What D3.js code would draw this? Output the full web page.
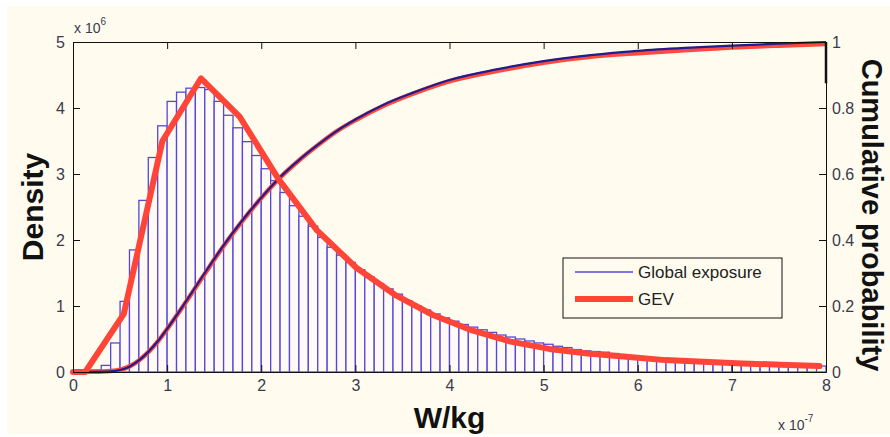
<!DOCTYPE html>
<html><head><meta charset="utf-8">
<script src="https://cdn.jsdelivr.net/npm/d3@7"></script>
<style>html,body{margin:0;padding:0;background:#fff;}svg{display:block;font-family:"Liberation Sans",Arial,sans-serif;}</style>
</head><body>
<svg id="c" width="890" height="437"></svg>
<script>
// ---- data (density in units of 1e6, x in units of 1e-7 W/kg) ----
const binEdgesStart = 0, binWidth = 0.1;
const histValues = [0,0.01,0.03,0.10,0.44,1.07,1.85,2.60,3.25,3.73,
  4.10,4.24,4.30,4.31,4.28,4.10,3.89,3.70,3.49,3.28,
  3.08,2.90,2.72,2.52,2.36,2.21,2.04,1.89,1.77,1.66,
  1.55,1.44,1.34,1.26,1.18,1.08,1.00,0.94,0.88,0.82,
  0.77,0.72,0.68,0.64,0.60,0.56,0.53,0.50,0.47,0.44,
  0.42,0.39,0.37,0.34,0.32,0.31,0.30,0.28,0.26,0.24,
  0.22,0.21,0.19,0.18,0.17,0.16,0.16,0.15,0.14,0.14,
  0.13,0.13,0.12,0.12,0.11,0.11,0.10,0.10,0.10,0.09];
const gevPdfX = [0,0.13,0.54,0.95,1.36,1.77,2.18,2.59,3.01,3.42,3.83,4.24,4.65,5.06,5.47,5.88,6.29,6.70,7.11,7.52,7.93];
const gevPdfY = [0,0.0,0.88,3.50,4.45,3.87,2.93,2.15,1.58,1.17,0.86,0.63,0.46,0.35,0.28,0.23,0.18,0.155,0.13,0.11,0.09];
const cdfX = [0,0.2,0.4,0.5,0.6,0.7,0.8,0.9,1.0,1.2,1.4,1.6,1.8,2.0,2.2,2.4,2.6,2.8,3.0,3.3,3.6,4.0,4.5,5.0,5.5,6.0,6.5,7.0,7.5,8.0];
const empCdf = [0,0.0005,0.002,0.006,0.016,0.035,0.061,0.093,0.131,0.214,0.300,0.384,0.460,0.528,0.590,0.642,0.688,0.730,0.765,0.810,0.845,0.885,0.917,0.942,0.960,0.973,0.982,0.989,0.995,1.0];
const gevCdf = [0,0.0005,0.003,0.007,0.017,0.035,0.060,0.092,0.130,0.212,0.298,0.382,0.458,0.527,0.589,0.641,0.687,0.729,0.763,0.807,0.842,0.881,0.912,0.937,0.955,0.966,0.975,0.983,0.989,0.994];
const xTicks = [0,1,2,3,4,5,6,7,8];
const yLeftTicks = [0,1,2,3,4,5];
const yRightTicks = [0,0.2,0.4,0.6,0.8,1];
const yRightLabels = ["0","0.2","0.4","0.6","0.8","1"];
const legendLabels = ["Global exposure","GEV"];

// ---- layout ----
const svg = d3.select("#c");
const L = 73, R = 826, T = 42, B = 372;
const x = d3.scaleLinear().domain([0,8]).range([L,R]);
const yL = d3.scaleLinear().domain([0,5]).range([B,T]);
const yR = d3.scaleLinear().domain([0,1]).range([B,T]);
const bg = "#fffcef";
const labCol = "#3a3a4e";

svg.append("rect").attr("x",7).attr("y",6).attr("width",883).attr("height",428).attr("fill",bg);

// histogram bars
svg.append("g").selectAll("rect").data(histValues).join("rect")
  .attr("x",(d,i)=>x(binEdgesStart+i*binWidth))
  .attr("width",(d,i)=>x(binEdgesStart+(i+1)*binWidth)-x(binEdgesStart+i*binWidth))
  .attr("y",d=>yL(d))
  .attr("height",d=>B-yL(d))
  .attr("fill","#fffaf6").attr("stroke","#5548d6").attr("stroke-width",1.3);

// CDFs
const cdfLine = arr => d3.line().x((d,i)=>x(cdfX[i])).y((d,i)=>yR(arr[i])).curve(d3.curveMonotoneX)(arr);
svg.append("path").attr("d",cdfLine(gevCdf)).attr("fill","none").attr("stroke","#ff4a3e").attr("stroke-width",4.5).attr("stroke-linejoin","round");
svg.append("path").attr("d",cdfLine(empCdf)).attr("fill","none").attr("stroke","#221c8c").attr("stroke-width",2.2).attr("stroke-linejoin","round");

// GEV pdf
svg.append("path").attr("d",d3.line().x((d,i)=>x(gevPdfX[i])).y(d=>yL(d))(gevPdfY))
  .attr("fill","none").attr("stroke","#ff4438").attr("stroke-width",6).attr("stroke-linejoin","round").attr("stroke-linecap","round");

// axes
function styleAxis(g){ g.selectAll("path").attr("stroke","#111"); g.selectAll("line").attr("stroke","#111");
  g.selectAll("text").attr("fill",labCol).style("font-size","16px").style("font-family","'Liberation Sans',Arial,sans-serif"); }
svg.append("g").attr("transform",`translate(0,${B})`)
  .call(d3.axisBottom(x).tickValues(xTicks).tickFormat(d3.format("d")).tickSizeInner(-7).tickSizeOuter(0).tickPadding(8)).call(styleAxis);
svg.append("g").attr("transform",`translate(0,${T})`)
  .call(d3.axisTop(x).tickValues(xTicks).tickFormat("").tickSizeInner(-7).tickSizeOuter(0)).call(styleAxis);
svg.append("g").attr("transform",`translate(${L},0)`)
  .call(d3.axisLeft(yL).tickValues(yLeftTicks).tickFormat(d3.format("d")).tickSizeInner(-7).tickSizeOuter(0).tickPadding(8)).call(styleAxis);
svg.append("g").attr("transform",`translate(${R},0)`)
  .call(d3.axisRight(yR).tickValues(yRightTicks).tickFormat((d,i)=>yRightLabels[i]).tickSizeInner(-7).tickSizeOuter(0).tickPadding(6)).call(styleAxis);
svg.append("line").attr("x1",R).attr("x2",R).attr("y1",T).attr("y2",yR(0.875)).attr("stroke","#111").attr("stroke-width",2.5);

// exponent labels
const e1 = svg.append("text").attr("x",74).attr("y",33).attr("fill",labCol).style("font-size","14px");
e1.append("tspan").text("x 10");
e1.append("tspan").attr("dy",-8).style("font-size","10px").text("6");
const e2 = svg.append("text").attr("x",778).attr("y",430).attr("fill",labCol).style("font-size","14px");
e2.append("tspan").text("x 10");
e2.append("tspan").attr("dy",-8).style("font-size","10px").text("-7");

// axis titles
svg.append("text").attr("transform",`translate(43,${(T+B)/2}) rotate(-90)`).attr("text-anchor","middle")
  .style("font-size","30px").style("font-weight","bold").attr("fill","#111").text("Density");
svg.append("text").attr("x",(L+R)/2).attr("y",428).attr("text-anchor","middle")
  .style("font-size","30px").style("font-weight","bold").attr("fill","#111").text("W/kg");
svg.append("text").attr("transform",`translate(862,${(T+B)/2+8}) rotate(90)`).attr("text-anchor","middle")
  .style("font-size","29px").style("font-weight","bold").attr("fill","#111").text("Cumulative probability");

// legend
const lg = svg.append("g");
lg.append("rect").attr("x",563).attr("y",258).attr("width",219).attr("height",60).attr("fill",bg).attr("stroke","#111").attr("stroke-width",1);
lg.append("line").attr("x1",575).attr("x2",633).attr("y1",272).attr("y2",272).attr("stroke","#5548d6").attr("stroke-width",1.3);
lg.append("line").attr("x1",575).attr("x2",633).attr("y1",299).attr("y2",299).attr("stroke","#ff4438").attr("stroke-width",6);
lg.selectAll("text").data(legendLabels).join("text").attr("x",638).attr("y",(d,i)=>278+i*27)
  .attr("fill","#222").style("font-size","17px").text(d=>d);
</script>
</body></html>
